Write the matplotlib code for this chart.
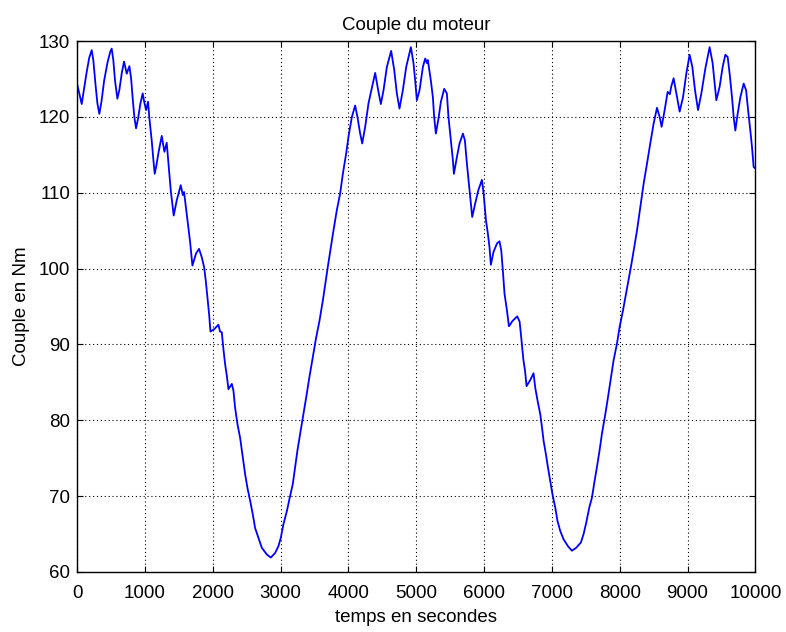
import matplotlib
matplotlib.use("Agg")
from matplotlib import pyplot as plt

# temps (s) et couple (Nm)
temps = [0, 40, 69, 100, 140, 180, 216, 240, 270, 300, 329, 360, 400, 450, 490,
         511, 535, 560, 595, 625, 660, 693, 733, 772, 797, 820, 845, 870, 900,
         935, 968, 990, 1018, 1047, 1067, 1101, 1126, 1145, 1170, 1199, 1249,
         1288, 1322, 1357, 1382, 1411, 1425, 1470, 1529, 1559, 1578, 1608, 1642,
         1667, 1692, 1701, 1755, 1799, 1839, 1873, 1898, 1922, 1947, 1967, 2021,
         2084, 2109, 2134, 2158, 2183, 2208, 2232, 2282, 2306, 2330, 2365, 2404,
         2444, 2478, 2512, 2552, 2591, 2625, 2674, 2724, 2798, 2857, 2920, 2969,
         3004, 3043, 3093, 3131, 3181, 3215, 3249, 3289, 3338, 3378, 3426, 3476,
         3525, 3574, 3624, 3700, 3780, 3830, 3879, 3919, 3968, 4002, 4052, 4100,
         4134, 4174, 4204, 4248, 4297, 4346, 4395, 4444, 4479, 4518, 4568, 4631,
         4676, 4715, 4754, 4803, 4853, 4922, 4960, 4985, 5010, 5049, 5099, 5133,
         5157, 5172, 5216, 5246, 5265, 5290, 5329, 5364, 5413, 5452, 5476, 5511,
         5541, 5556, 5600, 5639, 5689, 5718, 5748, 5782, 5807, 5826, 5870, 5915,
         5969, 5993, 6028, 6057, 6081, 6101, 6140, 6190, 6228, 6254, 6278, 6302,
         6338, 6367, 6420, 6490, 6525, 6550, 6580, 6605, 6627, 6681, 6730, 6755,
         6789, 6829, 6854, 6878, 6913, 6942, 6976, 7010, 7050, 7084, 7124, 7173,
         7237, 7296, 7360, 7429, 7468, 7507, 7552, 7591, 7630, 7664, 7703, 7738,
         7788, 7827, 7872, 7910, 7960, 7999, 8049, 8090, 8175, 8255, 8304, 8353,
         8402, 8451, 8500, 8550, 8589, 8618, 8663, 8707, 8740, 8760, 8795, 8835,
         8884, 8934, 8982, 9031, 9071, 9111, 9155, 9204, 9263, 9326, 9370, 9400,
         9425, 9474, 9518, 9558, 9592, 9621, 9656, 9680, 9705, 9739, 9779, 9828,
         9864, 9893, 9926, 9951, 9975, 10000]
couple = [124.4, 122.8, 121.7, 123.5, 125.8, 127.8, 128.8, 127.5, 124.5, 121.8,
          120.4, 122.0, 124.8, 127.2, 128.6, 129.0, 127.5, 124.8, 122.4, 123.6,
          125.8, 127.3, 125.7, 126.7, 125.1, 122.5, 120.0, 118.5, 119.8, 121.8,
          123.1, 122.0, 120.9, 122.0, 119.8, 116.9, 114.3, 112.5, 113.6, 115.2,
          117.5, 115.4, 116.6, 113.0, 110.3, 108.1, 107.0, 109.0, 111.0, 109.7,
          110.1, 107.9, 105.5, 103.5, 101.3, 100.4, 102.0, 102.6, 101.5, 100.2,
          98.4, 96.2, 94.0, 91.7, 92.0, 92.6, 91.7, 91.6, 89.4, 87.4, 85.9, 84.1,
          84.8, 83.9, 81.7, 79.5, 77.7, 75.1, 72.9, 71.1, 69.4, 67.6, 65.8, 64.5,
          63.2, 62.3, 61.9, 62.5, 63.4, 64.5, 66.3, 68.0, 69.6, 71.6, 73.8, 76.0,
          78.2, 80.8, 83.0, 85.7, 88.3, 90.9, 93.1, 95.8, 100.4, 105.0, 107.7,
          109.9, 112.5, 115.2, 117.4, 120.0, 121.5, 120.0, 117.8, 116.5, 118.7,
          121.8, 123.8, 125.8, 123.3, 121.7, 123.5, 126.6, 128.7, 126.2, 123.1,
          121.1, 123.5, 126.6, 129.2, 127.1, 124.8, 122.2, 123.5, 126.6, 127.7,
          127.1, 127.5, 124.8, 122.6, 120.0, 117.8, 119.8, 122.0, 123.7, 123.1,
          120.0, 116.9, 114.3, 112.5, 114.7, 116.5, 117.8, 116.9, 113.8, 110.8,
          108.6, 106.8, 108.6, 110.3, 111.7, 110.0, 106.4, 104.6, 102.8, 100.5,
          102.2, 103.3, 103.6, 102.4, 99.7, 96.7, 94.5, 92.4, 93.1, 93.7, 93.0,
          90.8, 88.0, 86.5, 84.5, 85.3, 86.2, 84.3, 82.6, 80.8, 79.1, 77.3, 75.5,
          73.8, 72.0, 70.2, 68.5, 66.7, 65.4, 64.3, 63.4, 62.8, 63.2, 63.9, 65.0,
          66.5, 68.5, 69.8, 72.0, 73.8, 76.0, 78.2, 80.8, 83.0, 85.7, 87.9, 90.1,
          92.3, 94.5, 96.5, 100.7, 105.0, 108.1, 111.2, 113.8, 116.5, 119.1,
          121.2, 120.0, 118.7, 120.9, 123.3, 123.0, 124.0, 125.1, 123.1, 120.7,
          122.6, 125.7, 128.2, 126.6, 123.5, 120.9, 123.1, 126.4, 129.2, 127.1,
          124.4, 122.2, 124.0, 126.6, 128.2, 127.9, 125.7, 122.6, 120.0, 118.2,
          120.4, 122.6, 124.4, 123.5, 120.9, 118.2, 116.0, 113.4, 113.2]

xticks = list(range(0, 10001, 1000))
yticks = list(range(60, 131, 10))

plt.rcParams['font.family'] = ['Liberation Sans', 'DejaVu Sans']

fig = plt.figure(figsize=(7.86, 6.32), dpi=100)
ax = fig.add_axes([0.098, 0.095, 0.863, 0.840])

ax.plot(temps, couple, color=(0, 0, 1), linewidth=1.3)

ax.set_xlim(0, 10000)
ax.set_ylim(60, 130)
ax.set_xticks(xticks)
ax.set_yticks(yticks)
ax.grid(True, color='black', linestyle=(0, (1, 2.5)), linewidth=0.8)
ax.tick_params(direction='in', top=True, right=True, length=4, width=0.8,
               labelsize=13.5, pad=5)
ax.tick_params(axis='x', pad=9.5)
for s in ax.spines.values():
    s.set_linewidth(1.0)

ax.set_title("Couple du moteur", fontsize=13.5, pad=8)
ax.set_xlabel("temps en secondes", fontsize=13.5, labelpad=5)
ax.set_ylabel("Couple en Nm", fontsize=13.5, labelpad=6)

plt.savefig("out.png", dpi=100)
